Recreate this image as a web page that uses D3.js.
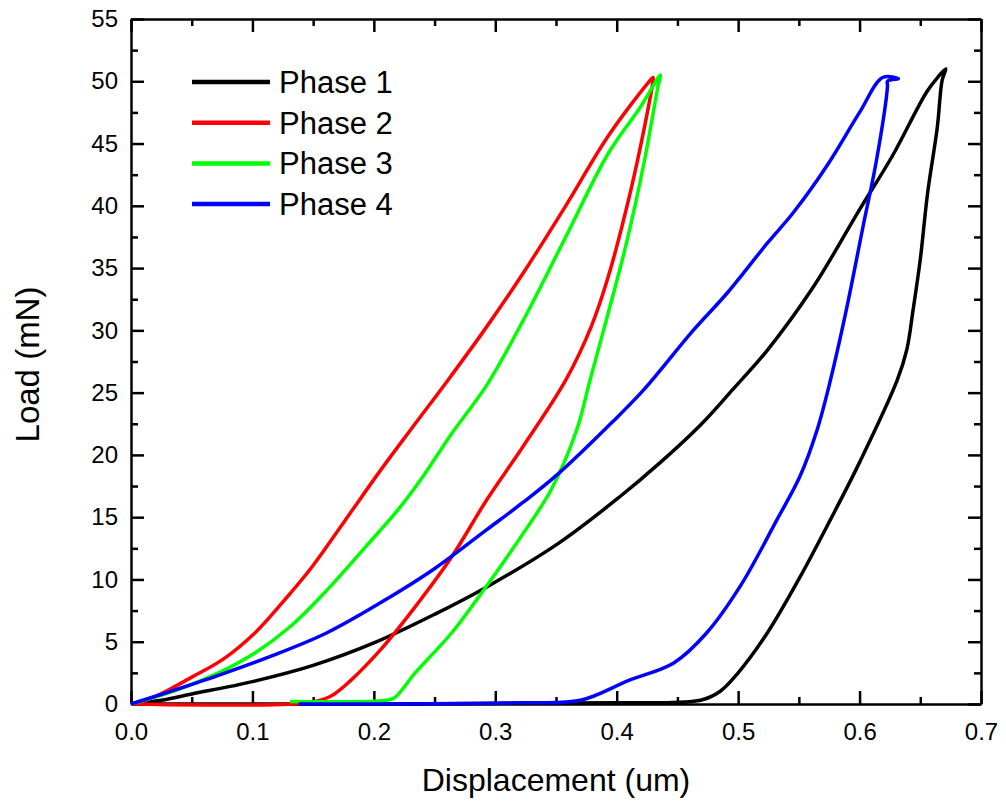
<!DOCTYPE html>
<html>
<head>
<meta charset="utf-8">
<script src="https://cdn.jsdelivr.net/npm/d3@7"></script>
<style>
  body { margin: 0; background: #fff; }
  text { font-family: "Liberation Sans", Arial, sans-serif; fill: #000; }
</style>
</head>
<body>
<div id="visualization"></div>
<script>
// [displacement (um), load (mN)]
var phase1 = [
  [0, 0], [0.025, 0.3], [0.05, 0.8], [0.1, 1.8], [0.15, 3.1], [0.2, 4.9], [0.25, 7.2],
  [0.293, 9.4], [0.352, 12.9], [0.402, 16.6], [0.436, 19.4], [0.469, 22.4], [0.496, 25.3],
  [0.524, 28.4], [0.562, 33.5], [0.6, 39.7], [0.627, 44.0], [0.655, 49.1], [0.665, 50.4],
  [0.671, 51.0], [0.668, 50.1], [0.664, 46.3], [0.656, 41.0], [0.65, 35.7], [0.644, 31.6],
  [0.639, 28.5], [0.631, 26.0], [0.6, 19.4], [0.576, 14.8], [0.551, 10.2], [0.524, 5.7],
  [0.5, 2.5], [0.485, 1.0], [0.469, 0.3], [0.4, 0.1], [0, 0]
];
var phase2 = [
  [0, 0], [0.02, 0.6], [0.049, 2.1], [0.076, 3.6], [0.102, 5.7], [0.126, 8.3], [0.149, 11.0],
  [0.176, 14.7], [0.205, 18.7], [0.234, 22.5], [0.261, 26.0], [0.293, 30.3], [0.323, 34.6],
  [0.358, 40.0], [0.393, 45.6], [0.426, 49.9], [0.43, 50.3],
  [0.43, 50.1], [0.423, 46.4], [0.411, 41.0], [0.393, 34.3], [0.379, 30.3], [0.358, 26.0],
  [0.323, 20.7], [0.293, 16.4], [0.264, 11.8], [0.234, 7.8], [0.205, 4.3], [0.181, 1.9],
  [0.164, 0.6], [0.146, 0.1], [0, 0]
];
var phase3 = [
  [0, 0], [0.037, 1.1], [0.072, 2.5], [0.102, 4.1], [0.131, 6.2], [0.161, 9.1], [0.193, 12.6],
  [0.22, 15.6], [0.24, 18.2], [0.264, 21.7], [0.293, 25.6], [0.323, 30.8], [0.358, 37.5],
  [0.393, 44.2], [0.42, 48.0], [0.436, 50.5],
  [0.434, 49.6], [0.423, 43.7], [0.408, 37.0], [0.39, 30.3], [0.378, 26.0], [0.367, 22.0],
  [0.346, 17.2], [0.323, 13.7], [0.293, 9.5], [0.264, 5.7], [0.234, 2.5], [0.217, 0.5],
  [0.21, 0.3], [0.131, 0.2]
];
var phase4 = [
  [0, 0], [0.029, 0.9], [0.072, 2.3], [0.117, 3.9], [0.161, 5.7], [0.205, 8.1], [0.249, 10.8],
  [0.293, 14.0], [0.323, 16.2], [0.352, 18.5], [0.396, 22.6], [0.422, 25.2], [0.463, 30.0],
  [0.491, 33.0], [0.524, 37.0], [0.545, 39.4], [0.573, 43.2], [0.6, 47.5], [0.619, 50.3],
  [0.632, 50.2], [0.623, 50.0],
  [0.623, 49.6], [0.614, 43.7], [0.603, 38.4], [0.589, 31.6], [0.576, 26.0], [0.565, 22.0],
  [0.551, 18.3], [0.532, 14.8], [0.502, 9.5], [0.474, 5.7], [0.447, 3.3], [0.41, 1.9],
  [0.37, 0.3], [0.32, 0.1], [0.138, 0]
];

var seriesNames = ['Phase 1', 'Phase 2', 'Phase 3', 'Phase 4'];
var seriesColors = ['#000000', '#ff0000', '#00ff00', '#0000ff'];
var xTicks = [0, 0.1, 0.2, 0.3, 0.4, 0.5, 0.6, 0.7];
var yTicks = [0, 5, 10, 15, 20, 25, 30, 35, 40, 45, 50, 55];

document.addEventListener('DOMContentLoaded', function() {
  var width = 1006;
  var height = 805;
  var margin = {top: 19, right: 25, bottom: 101, left: 131};
  var w = width - margin.left - margin.right;
  var h = height - margin.top - margin.bottom;

  var svg = d3.select('#visualization').append('svg')
              .attr('width', width)
              .attr('height', height);

  var g = svg.append('g')
             .attr('transform', 'translate(' + margin.left + ',' + margin.top + ')');

  var x = d3.scaleLinear().domain([0, 0.7]).range([0, w]);
  var y = d3.scaleLinear().domain([0, 55]).range([h, 0]);

  var xMinor = xTicks.slice(0, -1).map(function(d) { return d + 0.05; });
  var yMinor = yTicks.slice(0, -1).map(function(d) { return d + 2.5; });

  // minor ticks first, then the major axes on top
  function addAxis(axis, tr, minor) {
    var a = g.append('g').attr('transform', tr).call(axis);
    a.select('.domain').attr('stroke-width', 2.5);
    a.selectAll('.tick line').attr('stroke-width', 2.5);
    if (minor) a.select('.domain').remove();
    return a;
  }

  addAxis(d3.axisBottom(x).tickValues(xMinor).tickSize(-7).tickFormat(''), 'translate(0,' + h + ')', true);
  addAxis(d3.axisTop(x).tickValues(xMinor).tickSize(-7).tickFormat(''), 'translate(0,0)', true);
  addAxis(d3.axisLeft(y).tickValues(yMinor).tickSize(-7).tickFormat(''), 'translate(0,0)', true);
  addAxis(d3.axisRight(y).tickValues(yMinor).tickSize(-7).tickFormat(''), 'translate(' + w + ',0)', true);

  var bottom = addAxis(d3.axisBottom(x).tickValues(xTicks).tickSize(-13).tickSizeOuter(0)
                         .tickPadding(19).tickFormat(d3.format('.1f')), 'translate(0,' + h + ')');
  var left = addAxis(d3.axisLeft(y).tickValues(yTicks).tickSize(-13).tickSizeOuter(0)
                       .tickPadding(13), 'translate(0,0)');
  addAxis(d3.axisTop(x).tickValues(xTicks).tickSize(-13).tickSizeOuter(0).tickFormat(''), 'translate(0,0)');
  addAxis(d3.axisRight(y).tickValues(yTicks).tickSize(-13).tickSizeOuter(0).tickFormat(''), 'translate(' + w + ',0)');

  bottom.selectAll('text').attr('font-size', 24).attr('font-family', '"Liberation Sans", Arial, sans-serif');
  left.selectAll('text').attr('font-size', 24).attr('font-family', '"Liberation Sans", Arial, sans-serif');

  var line = d3.line()
               .curve(d3.curveCatmullRom.alpha(0.5))
               .x(function(d) { return x(d[0]); })
               .y(function(d) { return y(d[1]); });

  var phases = [phase1, phase2, phase3, phase4];
  phases.forEach(function(data, i) {
    g.append('path')
     .datum(data)
     .attr('d', line)
     .attr('fill', 'none')
     .attr('stroke', seriesColors[i])
     .attr('stroke-width', 3.5)
     .attr('stroke-linejoin', 'round');
  });

  // legend
  var legend = svg.append('g');
  seriesNames.forEach(function(name, i) {
    var ry = 82 + i * 40.7;
    legend.append('line')
          .attr('x1', 192).attr('x2', 270)
          .attr('y1', ry).attr('y2', ry)
          .attr('stroke', seriesColors[i])
          .attr('stroke-width', 4.5);
    legend.append('text')
          .attr('x', 279)
          .attr('y', ry + 11)
          .attr('font-size', 31)
          .text(name);
  });

  // axis titles
  svg.append('text')
     .attr('x', margin.left + w / 2)
     .attr('y', 791)
     .attr('text-anchor', 'middle')
     .attr('font-size', 32)
     .text('Displacement (um)');

  svg.append('text')
     .attr('transform', 'translate(39,' + (margin.top + h / 2 + 3) + ') rotate(-90)')
     .attr('text-anchor', 'middle')
     .attr('font-size', 33)
     .text('Load (mN)');
});
</script>
</body>
</html>
